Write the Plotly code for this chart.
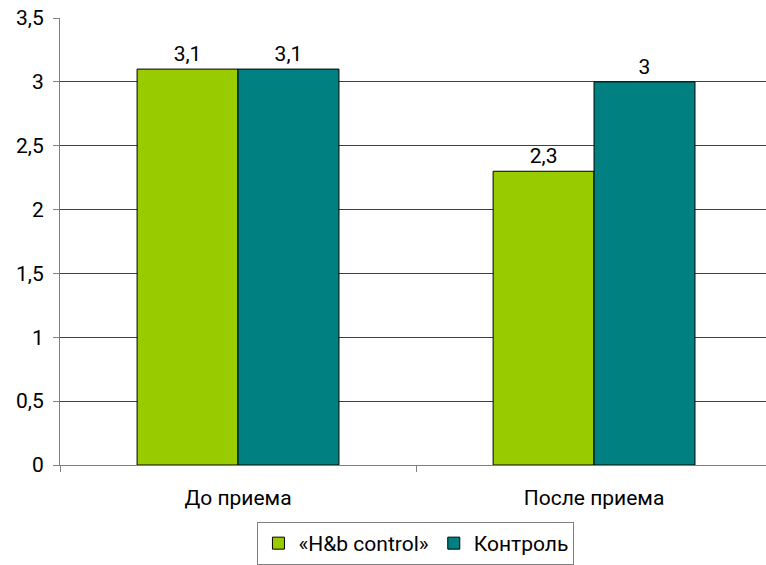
import plotly.graph_objects as go

categories = ["До приема", "После приема"]
series_names = ["«H&b control»", "Контроль"]
hb_values = [3.1, 2.3]
control_values = [3.1, 3.0]
colors = ["#99CC00", "#008080"]

FS = 21

fig = go.Figure()
for name, vals, col in zip(series_names, [hb_values, control_values], colors):
    fig.add_trace(go.Bar(
        x=categories, y=vals, name=name,
        marker=dict(color=col, line=dict(color="#000000", width=1)),
        text=[f"{v:g}".replace(".", ",") for v in vals],
        textposition="outside", cliponaxis=False,
        textfont=dict(size=FS, color="#000000"),
    ))

fig.update_layout(
    width=766, height=565,
    margin=dict(l=60, r=0, t=18, b=100, autoexpand=False),
    paper_bgcolor="white", plot_bgcolor="white",
    barmode="group", bargap=0.433, bargroupgap=0,
    separators=", ",
    font=dict(family="Roboto, Arial, sans-serif", size=FS, color="#000000"),
    showlegend=True,
    legend=dict(orientation="h", x=0.543, xanchor="center", xref="container",
                y=-0.027, yanchor="bottom", yref="container",
                bordercolor="#808080", borderwidth=1, font=dict(size=FS),
                itemwidth=30, tracegroupgap=0),
    xaxis=dict(range=[-0.5, 1.483], showline=True, linecolor="#808080", linewidth=1,
               ticks="outside", tickson="boundaries", ticklen=6, tickcolor="#808080",
               ticklabelstandoff=14,
               showgrid=False, tickfont=dict(size=FS)),
    yaxis=dict(range=[0, 3.5], dtick=0.5, showline=True, linecolor="#808080", linewidth=1,
               ticks="outside", ticklen=6, tickcolor="#808080",
               ticklabelstandoff=5,
               showgrid=True, gridcolor="#404040", gridwidth=1,
               tickformat=".1~f", tickfont=dict(size=FS), zeroline=False),
)
fig.write_html("out.html")
